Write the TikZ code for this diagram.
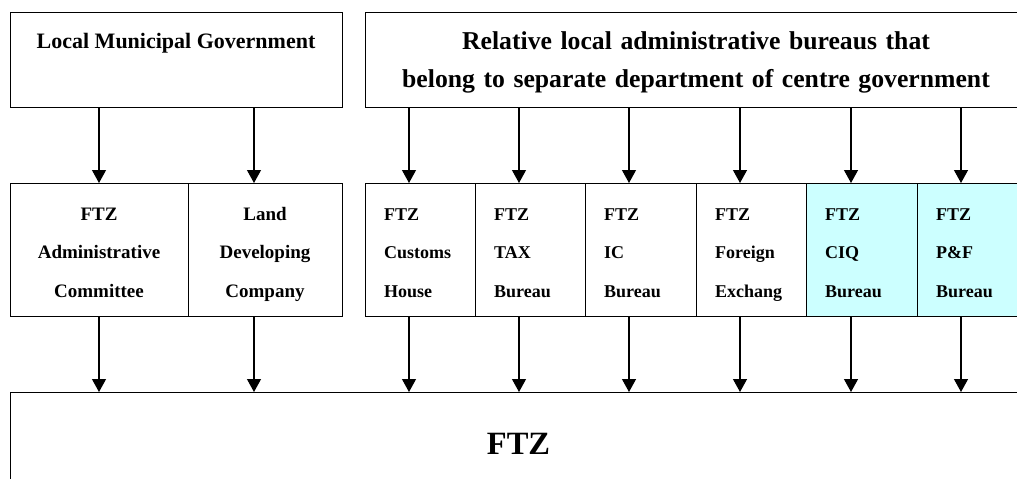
\documentclass[tikz,border=0pt]{standalone}
\usepackage{fontspec}
\setmainfont{Liberation Serif}
\usetikzlibrary{arrows.meta}
\definecolor{cellcyan}{HTML}{CCFFFF}
\begin{document}
\begin{tikzpicture}[x=1pt,y=-1pt,
  box/.style={draw=black,line width=1.3pt,rectangle,inner sep=0pt,anchor=north west},
  arr/.style={-{Triangle[length=13pt,width=14pt]},line width=1.2pt,draw=black},
  toptxt/.style={font=\bfseries\fontsize{22}{26}\selectfont,inner sep=0pt,anchor=base},
  reltxt/.style={font=\bfseries\fontsize{25.7}{38}\selectfont,inner sep=0pt,anchor=base,align=center,text width=640pt},
  ctxt/.style={font=\bfseries\fontsize{19}{38.5}\selectfont,inner sep=0pt,anchor=base,align=center,text width=170pt},
  ltxt/.style={font=\bfseries\fontsize{18}{38.5}\selectfont,inner sep=0pt,anchor=base west,align=left,text width=90pt},
  bigtxt/.style={font=\bfseries\fontsize{32.5}{36}\selectfont,inner sep=0pt,anchor=base}]
\useasboundingbox (0,0) rectangle (1017,479);
\clip (0,0) rectangle (1017,479);
\fill[white] (0,0) rectangle (1017,479);
% top row
\node[box,minimum width=332pt,minimum height=95.5pt] (lmg) at (10,11.5) {};
\node[box,minimum width=662pt,minimum height=95.5pt] (rel) at (365,11.5) {};
\node[toptxt] (lmgt) at (176,48) {Local Municipal Government};
\node[reltxt] (relt) at (696,49) {Relative local administrative bureaus that\\belong to separate department of centre government};
% middle row
\node[box,minimum width=178pt,minimum height=133pt] (ac) at (10,183) {};
\node[box,minimum width=154pt,minimum height=133pt] (ldc) at (188,183) {};
\node[box,minimum width=110pt,minimum height=133pt] (ch) at (365,183) {};
\node[box,minimum width=110pt,minimum height=133pt] (tax) at (475,183) {};
\node[box,minimum width=110.5pt,minimum height=133pt] (ic) at (585,183) {};
\node[box,minimum width=110.5pt,minimum height=133pt] (fe) at (695.5,183) {};
\node[box,fill=cellcyan,minimum width=111pt,minimum height=133pt] (ciq) at (806,183) {};
\node[box,fill=cellcyan,minimum width=110pt,minimum height=133pt] (pf) at (917,183) {};
\node[ctxt] (act) at (99,220) {FTZ\\Administrative\\Committee};
\node[ctxt] (ldct) at (265,220) {Land\\Developing\\Company};
\node[ltxt] (cht) at (384,220) {FTZ\\Customs\\House};
\node[ltxt] (taxt) at (494,220) {FTZ\\TAX\\Bureau};
\node[ltxt] (ict) at (604,220) {FTZ\\IC\\Bureau};
\node[ltxt] (fet) at (715,220) {FTZ\\Foreign\\Exchang};
\node[ltxt] (ciqt) at (825,220) {FTZ\\CIQ\\Bureau};
\node[ltxt] (pft) at (936,220) {FTZ\\P\&F\\Bureau};
% bottom
\node[box,minimum width=1020pt,minimum height=200pt] (ftz) at (10,392) {};
\node[bigtxt] (ftzt) at (518.5,454) {FTZ};
% arrow columns
\coordinate (c1) at (99,0);
\coordinate (c2) at (254,0);
\coordinate (c3) at (409,0);
\coordinate (c4) at (519,0);
\coordinate (c5) at (629,0);
\coordinate (c6) at (740,0);
\coordinate (c7) at (851,0);
\coordinate (c8) at (961,0);
\draw[arr] (lmg.south -| c1) -- (ac.north -| c1);
\draw[arr] (lmg.south -| c2) -- (ldc.north -| c2);
\draw[arr] (rel.south -| c3) -- (ch.north -| c3);
\draw[arr] (rel.south -| c4) -- (tax.north -| c4);
\draw[arr] (rel.south -| c5) -- (ic.north -| c5);
\draw[arr] (rel.south -| c6) -- (fe.north -| c6);
\draw[arr] (rel.south -| c7) -- (ciq.north -| c7);
\draw[arr] (rel.south -| c8) -- (pf.north -| c8);
\draw[arr] (ac.south -| c1) -- (ftz.north -| c1);
\draw[arr] (ldc.south -| c2) -- (ftz.north -| c2);
\draw[arr] (ch.south -| c3) -- (ftz.north -| c3);
\draw[arr] (tax.south -| c4) -- (ftz.north -| c4);
\draw[arr] (ic.south -| c5) -- (ftz.north -| c5);
\draw[arr] (fe.south -| c6) -- (ftz.north -| c6);
\draw[arr] (ciq.south -| c7) -- (ftz.north -| c7);
\draw[arr] (pf.south -| c8) -- (ftz.north -| c8);
\end{tikzpicture}
\end{document}
